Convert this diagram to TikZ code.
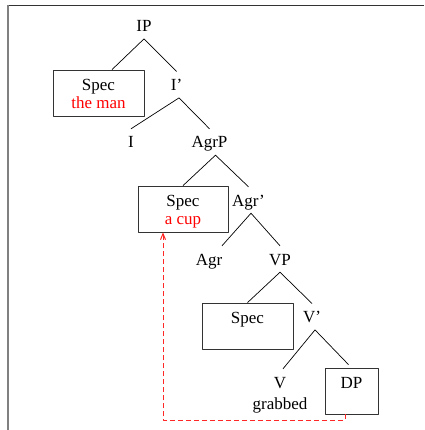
\documentclass[tikz,border=0pt]{standalone}
\usepackage{fontspec}
\setmainfont{Liberation Serif}
\usetikzlibrary{arrows.meta}
\newcommand{\topstrut}{\rule{0pt}{19pt}}
\newcommand{\botstrut}{\rule[-5.5pt]{0pt}{5.5pt}}
\begin{document}
\begin{tikzpicture}[x=1pt, y=-1pt, font=\fontsize{17}{18.3}\selectfont, line join=round, >={Straight Barb[length=6pt,width=5pt]},
		lab/.style={inner sep=0pt, text height=19pt, text depth=7pt, anchor=base},
		specbox/.style={draw=black!80, line width=0.8pt, inner sep=0pt, align=center, minimum width=#1, minimum height=46pt},
		branch/.style={line width=0.7pt},
		move/.style={red!85, line width=1pt, dash pattern=on 5pt off 3pt, ->}]
			\useasboundingbox (0,0) rectangle (424,430);
			\draw[black!80, line width=0.8pt] (424,5) -- (8,5);
			\draw[gray, line width=1.6pt] (8,5) -- (8,430);
			\node[lab] (ip) at (144,31.7) {IP};
			\node[specbox=91pt] (spec1) at (98.5,93) {\topstrut Spec\\\textcolor{red}{the man}\botstrut};
			\node[lab] (ibar) at (176.5,90.7) {I'};
			\node[lab] (i) at (131,148) {I};
			\node[lab] (agrp) at (209.5,148) {AgrP};
			\node[specbox=90pt] (spec2) at (183,209) {\topstrut Spec\\\textcolor{red}{a cup}\botstrut};
			\node[lab] (agrbar) at (248.5,206) {Agr'};
			\node[lab] (agr) at (209,265) {Agr};
			\node[lab] (vp) at (280,265) {VP};
			\node[specbox=91pt] (spec3) at (247.5,326) {\topstrut Spec\\\botstrut};
			\node[lab] (vbar) at (312,322.7) {V'};
			\node[lab] (v) at (280,388) {V};
			\node[anchor=base, inner sep=0pt] (grabbed) at (280,409) {grabbed};
			\node[specbox=53pt] (dp) at (351.5,391) {\topstrut DP\\\botstrut};
			\draw[branch] ([xshift=13.5pt]spec1.north) -- (ip.south) -- (ibar.north);
			\draw[branch] (i.north) -- ([xshift=2.5pt]ibar.south) -- (agrp.north);
			\draw[branch] (spec2.north) -- ([xshift=6pt]agrp.south) -- (agrbar.north);
			\draw[branch] ([xshift=13pt]agr.north) -- ([xshift=2.5pt]agrbar.south) -- (vp.north);
			\draw[branch] (spec3.north) -- (vp.south) -- (vbar.north);
			\draw[branch] ([xshift=3pt]v.north) -- ([xshift=3pt]vbar.south) -- ([xshift=-3pt,yshift=3pt]dp.north);
			\draw[move] ([xshift=-6.5pt]dp.south) -- ++(0,6) -| ([xshift=-20pt]spec2.south);
		\end{tikzpicture}
\end{document}
